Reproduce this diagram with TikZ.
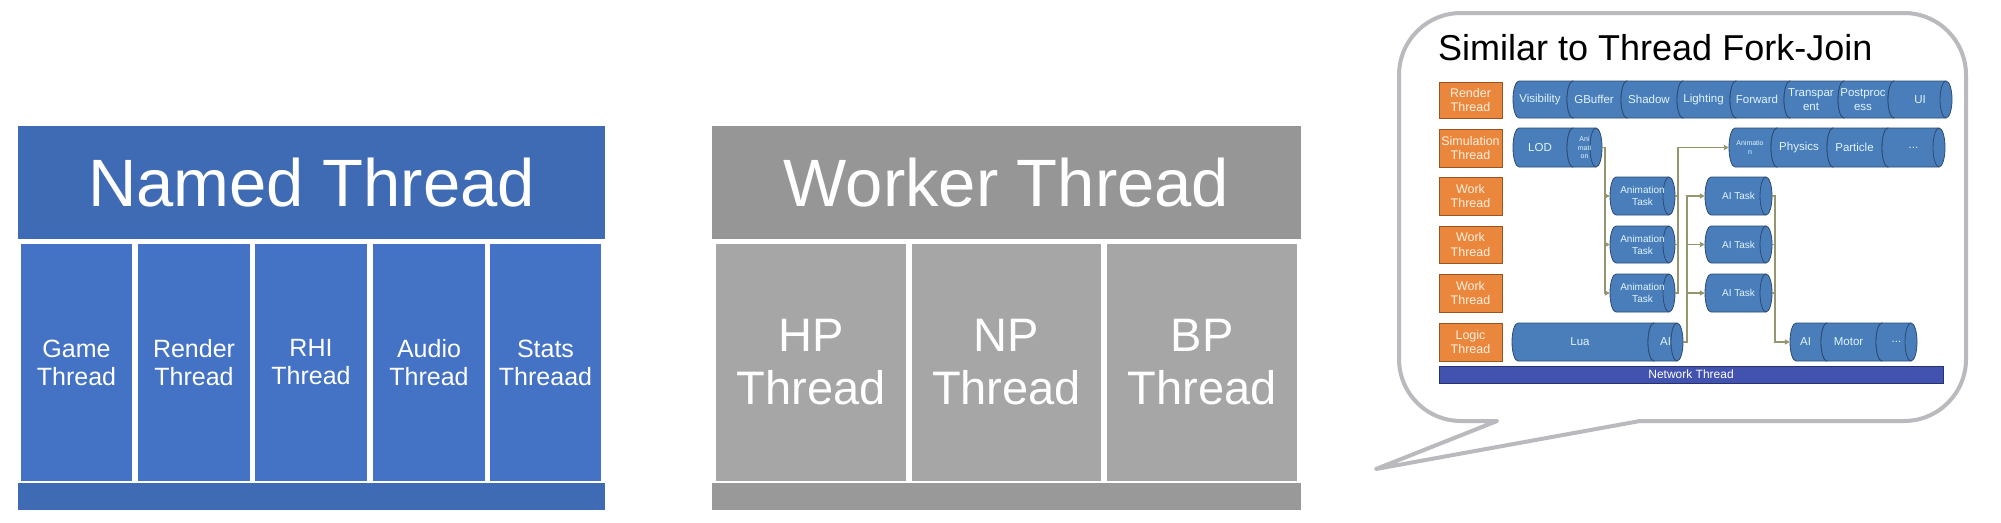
\documentclass[tikz,border=0pt]{standalone}
\usepackage{fontspec}
\setmainfont{Liberation Sans}
\usetikzlibrary{arrows.meta}
\definecolor{nhead}{RGB}{63,107,180}
\definecolor{ncol}{RGB}{68,114,196}
\definecolor{whead}{RGB}{150,150,150}
\definecolor{wcol}{RGB}{166,166,166}
\definecolor{wbot}{RGB}{153,153,153}
\definecolor{cylblue}{RGB}{74,126,187}
\definecolor{cylline}{RGB}{45,75,115}
\definecolor{orng}{RGB}{234,135,60}
\definecolor{orngline}{RGB}{150,85,35}
\definecolor{netblue}{RGB}{66,82,175}
\definecolor{netline}{RGB}{40,50,110}
\definecolor{bubline}{RGB}{185,185,190}
\definecolor{conncol}{RGB}{150,150,110}
\tikzset{
  blk/.style={draw=none, inner sep=0pt, text=white, align=center},
  cylfill/.style={fill=cylblue, draw=cylline, line width=0.8pt},
  cyltext/.style={inner sep=0pt, text=white!88!cyan, align=center, font=\fontsize{11.5}{13.5}\selectfont},
  tinytxt/.style={font=\fontsize{7}{8.5}\selectfont},
  smalltxt/.style={font=\fontsize{10}{12}\selectfont},
  obox/.style={draw=orngline, fill=orng, line width=0.8pt, inner sep=0pt, text=white!88!orange, align=center, font=\fontsize{12.5}{14.5}\selectfont},
  netbox/.style={draw=netline, fill=netblue, line width=0.8pt, inner sep=0pt, text=white, font=\fontsize{12}{14}\selectfont},
  conn/.style={draw=conncol, line width=1.2pt},
  arr/.style={-{Triangle[length=5pt,width=5pt]}}
}
\newcommand\boxat[7]{\node[#6, minimum width={(#4-#2)*1pt}, minimum height={(#5-#3)*1pt}] (#1) at ({(#2+#4)/2},{(#3+#5)/2}) {#7};}
\newcommand\cylseg[8]{%
  \draw[cylfill] ({#2+6},#5) -- ({#4-6},#5) arc[start angle=-90, end angle=90, x radius=6, y radius={(#6-#5)/2}] -- ({#2+6},#6) arc[start angle=90, end angle=270, x radius=6, y radius={(#6-#5)/2}] -- cycle;
  \draw[cylfill, fill=none] ({#4-6},#5) arc[start angle=270, end angle=90, x radius=6, y radius={(#6-#5)/2}];
  \node[cyltext, #7, minimum width={(#3-#2)*1pt}, minimum height={(#6-#5)*1pt}] (#1) at ({(#2+#3)/2},{(#5+#6)/2}) {#8};
}
\begin{document}
\begin{tikzpicture}[x=1pt,y=-1pt]
\useasboundingbox (0,0) rectangle (2001,522);
% Named Thread
\boxat{nh}{18}{126}{605}{239}{blk,fill=nhead,font=\fontsize{67}{75}\selectfont}{Named Thread}
\boxat{c1}{21}{244}{132}{481}{blk,fill=ncol,font=\fontsize{25}{28}\selectfont}{Game\\Thread}
\boxat{c2}{138}{244}{250}{481}{blk,fill=ncol,font=\fontsize{25}{28}\selectfont}{Render\\Thread}
\boxat{c3}{255}{244}{367}{481}{blk,fill=ncol,font=\fontsize{25}{28}\selectfont}{RHI\\Thread}
\boxat{c4}{373}{244}{485}{481}{blk,fill=ncol,font=\fontsize{25}{28}\selectfont}{Audio\\Thread}
\boxat{c5}{490}{244}{601}{481}{blk,fill=ncol,font=\fontsize{25}{28}\selectfont}{Stats\\Threaad}
\boxat{nb}{18}{483}{605}{510}{blk,fill=nhead}{}
% Worker Thread
\boxat{wh}{712}{126}{1301}{239}{blk,fill=whead,font=\fontsize{67}{75}\selectfont}{Worker Thread}
\boxat{w1}{716}{244}{906}{481}{blk,fill=wcol,font=\fontsize{47}{53}\selectfont}{HP\\Thread}
\boxat{w2}{912}{244}{1101}{481}{blk,fill=wcol,font=\fontsize{47}{53}\selectfont}{NP\\Thread}
\boxat{w3}{1107}{244}{1297}{481}{blk,fill=wcol,font=\fontsize{47}{53}\selectfont}{BP\\Thread}
\boxat{wb}{712}{483}{1301}{510}{blk,fill=wbot}{}
% Bubble
\draw[bubline, line width=4pt, fill=white, line join=round] (1640,421) -- (1904,421) arc[start angle=90, end angle=0, radius=62] -- (1966,75) arc[start angle=0, end angle=-90, radius=62] -- (1461,13) arc[start angle=-90, end angle=-180, radius=62] -- (1399,359) arc[start angle=180, end angle=90, radius=62] -- (1497,421) -- (1376,469) -- cycle;
\node[anchor=base west, inner sep=0pt, font=\fontsize{36}{40}\selectfont] (title) at (1438,60) {Similar to Thread Fork-Join};
% thread labels
\boxat{ort}{1439}{82}{1502}{118}{obox}{Render\\Thread}
\boxat{ost}{1439}{129}{1502}{167}{obox}{Simulation\\Thread}
\boxat{ow1}{1439}{177}{1502}{215}{obox}{Work\\Thread}
\boxat{ow2}{1439}{226}{1502}{263}{obox}{Work\\Thread}
\boxat{ow3}{1439}{274}{1502}{312}{obox}{Work\\Thread}
\boxat{olt}{1439}{323}{1502}{361}{obox}{Logic\\Thread}
% Render row
\cylseg{vis}{1513}{1567}{1579}{81}{118}{}{Visibility}
\cylseg{gbuf}{1567}{1621}{1633}{81}{118}{}{GBuffer}
\cylseg{shad}{1621}{1677}{1689}{81}{118}{}{Shadow}
\cylseg{light}{1677}{1730}{1742}{81}{118}{}{Lighting}
\cylseg{fwd}{1730}{1784}{1796}{81}{118}{}{Forward}
\cylseg{trans}{1784}{1838}{1850}{81}{118}{}{Transpar\\ent}
\cylseg{post}{1838}{1888}{1900}{81}{118}{}{Postproc\\ess}
\cylseg{ui}{1888}{1952}{1952}{81}{118}{}{UI}
% Simulation row
\cylseg{lod}{1513}{1567}{1579}{128}{167}{}{LOD}
\cylseg{ani}{1567}{1602}{1602}{128}{167}{tinytxt}{Ani\\mati\\on}
\cylseg{anim}{1729}{1771}{1783}{128}{167}{tinytxt}{Animatio\\n}
\cylseg{phys}{1771}{1827}{1839}{128}{167}{}{Physics}
\cylseg{part}{1827}{1882}{1894}{128}{167}{}{Particle}
\cylseg{sdots}{1882}{1945}{1945}{128}{167}{}{...}
% Work rows
\cylseg{at1}{1610}{1675}{1675}{177}{215}{smalltxt}{Animation\\Task}
\cylseg{at2}{1610}{1675}{1675}{226}{263}{smalltxt}{Animation\\Task}
\cylseg{at3}{1610}{1675}{1675}{274}{312}{smalltxt}{Animation\\Task}
\cylseg{ai1}{1705}{1772}{1772}{177}{215}{smalltxt}{AI Task}
\cylseg{ai2}{1705}{1772}{1772}{226}{263}{smalltxt}{AI Task}
\cylseg{ai3}{1705}{1772}{1772}{274}{312}{smalltxt}{AI Task}
% Logic row
\cylseg{lua}{1512}{1648}{1660}{323}{361}{}{Lua}
\cylseg{lai}{1648}{1683}{1683}{323}{361}{}{AI}
\cylseg{mai}{1790}{1821}{1833}{323}{361}{}{AI}
\cylseg{motor}{1821}{1876}{1888}{323}{361}{}{Motor}
\cylseg{mdots}{1876}{1917}{1917}{323}{361}{}{...}
% Network
\boxat{net}{1439}{366}{1943}{383}{netbox}{Network Thread}
% connectors
\coordinate (j1) at (1605,0);
\coordinate (j2) at (1678,0);
\coordinate (j3) at (1687,0);
\coordinate (j4) at (1775,0);
\draw[conn,arr] (ani.east) -- (ani.east -| j1) |- (at1.west);
\draw[conn,arr] (ani.east) -- (ani.east -| j1) |- (at2.west);
\draw[conn,arr] (ani.east) -- (ani.east -| j1) |- (at3.west);
\draw[conn] (at1.east) -- (at1.east -| j2);
\draw[conn] (at2.east) -- (at2.east -| j2);
\draw[conn,arr] (at3.east) -- (at3.east -| j2) |- (anim.west);
\draw[conn,arr] (lai.east) -- (lai.east -| j3) |- (ai1.west);
\draw[conn,arr] (lai.east) -- (lai.east -| j3) |- (ai2.west);
\draw[conn,arr] (lai.east) -- (lai.east -| j3) |- (ai3.west);
\draw[conn] (ai2.east) -- (ai2.east -| j4);
\draw[conn] (ai3.east) -- (ai3.east -| j4);
\draw[conn,arr] (ai1.east) -- (ai1.east -| j4) |- (mai.west);
\end{tikzpicture}
\end{document}
